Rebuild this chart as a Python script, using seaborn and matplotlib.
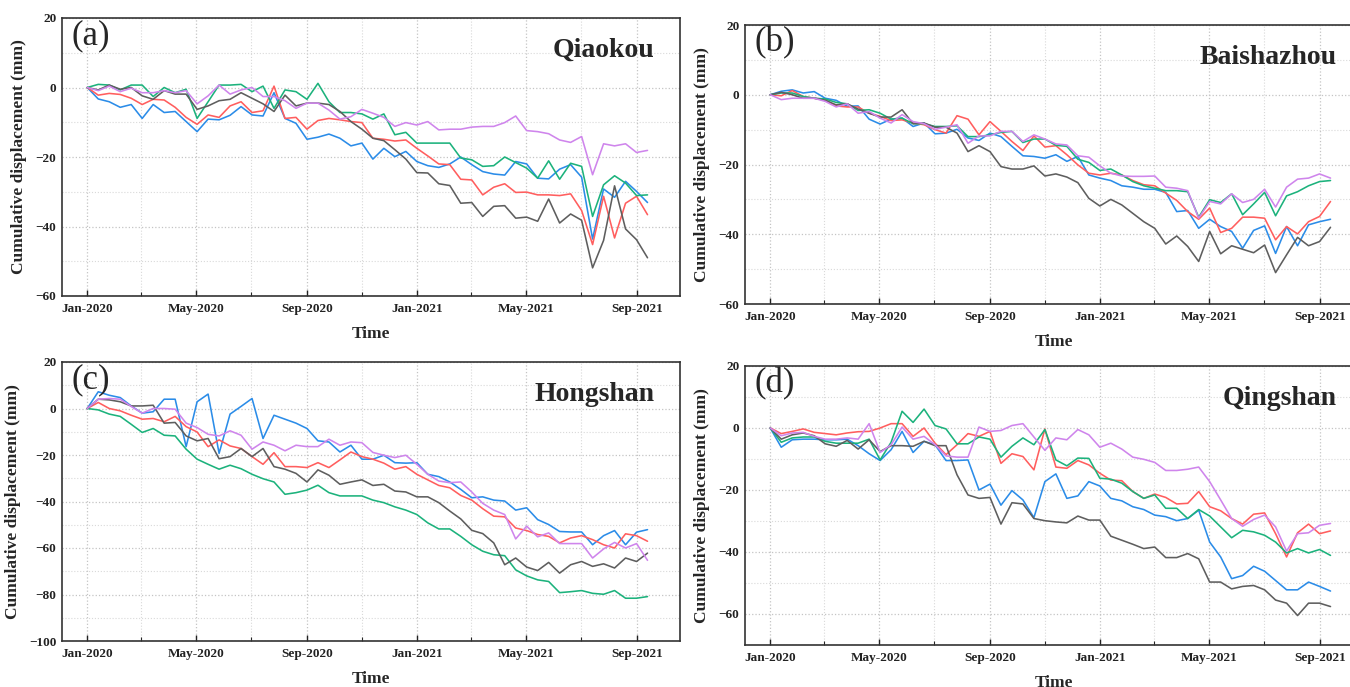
import numpy as np
import pandas as pd
import matplotlib
matplotlib.use("Agg")
import matplotlib.pyplot as plt
import matplotlib.dates as mdates
from matplotlib.ticker import MultipleLocator, FuncFormatter
import seaborn as sns

# ---------------- data ----------------
dates = pd.date_range("2020-01-01", "2021-09-13", periods=52)
line_names = ["blue", "red", "green", "gray", "violet"]
panel_letters = ["(a)", "(b)", "(c)", "(d)"]
panel_titles = ["Qiaokou", "Baishazhou", "Hongshan", "Qingshan"]
y_limits = [(-60, 20), (-60, 20), (-100, 20), (-70, 20)]

a_blue = [0, -3.3, -4.1, -5.7, -4.9, -8.9, -4.9, -7.2, -6.9, -9.8, -12.7, -9.1, -9.3, -8.0, -5.5, -7.9, -8.2, -1.5, -8.9, -10.3, -14.9, -14.3, -13.4, -14.6, -16.8, -16.0,
          -20.6, -17.5, -19.9, -18.4, -21.3, -22.5, -23.0, -22.0, -20.0, -22.2, -24.2, -24.9, -25.2, -21.3, -22.0, -26.1, -26.3, -23.5, -22.2, -25.8, -43.6, -29.2, -31.6, -27.0, -29.9, -33.1]
a_red = [0, -2.2, -1.7, -2.0, -3.1, -4.9, -3.4, -3.6, -5.7, -8.6, -10.6, -7.9, -8.6, -5.3, -4.1, -7.2, -6.7, 0.4, -8.9, -8.6, -12.0, -9.5, -8.9, -9.3, -9.8, -10.1,
         -14.6, -14.9, -15.4, -15.1, -17.5, -19.7, -22.0, -22.2, -26.4, -26.6, -30.9, -28.7, -27.7, -30.2, -30.1, -30.9, -30.9, -31.1, -30.6, -35.4, -45.2, -31.3, -43.3, -33.3, -31.3, -36.6]
a_green = [0, 0.9, 0.7, -0.7, 0.7, 0.7, -2.6, 0, -1.5, -0.5, -8.9, -4.1, 0.7, 0.7, 0.9, -1.2, 0.4, -6.0, -0.7, -1.2, -3.4, 1.2, -4.1, -7.2, -7.2, -7.6,
           -9.1, -7.6, -13.6, -12.9, -16.0, -16.0, -16.0, -16.0, -20.3, -20.8, -22.7, -22.5, -20.0, -21.6, -23.2, -26.1, -21.1, -26.4, -21.8, -22.7, -37.1, -28.0, -25.4, -27.5, -31.1, -30.9]
a_gray = [0, -0.7, 0.7, -0.5, 0, -2.4, -3.4, -0.9, -1.9, -1.9, -6.3, -5.3, -3.8, -3.4, -1.5, -3.1, -4.7, -6.9, -2.2, -5.3, -4.5, -4.5, -4.9, -6.9, -9.8, -12.0,
          -14.6, -15.3, -17.9, -20.6, -24.5, -24.6, -27.7, -28.2, -33.3, -33.1, -37.1, -34.2, -34.0, -37.6, -37.3, -38.5, -32.1, -39.0, -36.4, -38.2, -51.9, -44.0, -28.3, -40.7, -43.8, -49.0]
a_violet = [0, -0.9, 0.4, -1.2, -0.2, -1.5, -1.5, -0.9, -1.5, -0.9, -4.7, -2.4, 0.7, -1.9, -0.7, 0, -2.6, -2.6, -3.8, -6.0, -4.5, -4.5, -6.5, -9.1, -8.4, -6.3,
            -7.4, -8.6, -11.2, -10.1, -10.8, -9.8, -12.2, -12.0, -12.0, -11.4, -11.2, -11.2, -10.1, -8.2, -12.4, -12.7, -13.3, -15.1, -15.8, -14.1, -25.1, -16.2, -16.8, -16.2, -18.7, -18.1]

b_blue = [0, 1.0, 1.4, 0.5, 0.9, -1.0, -1.6, -3.3, -3.2, -7.0, -8.4, -7.0, -6.7, -9.1, -8.1, -11.2, -11.0, -9.9, -12.4, -13.1, -11.0, -12.0, -14.8, -17.5, -17.7, -18.2,
          -17.2, -19.1, -17.7, -23.0, -23.9, -24.6, -26.1, -26.5, -27.1, -27.1, -28.0, -33.5, -33.2, -38.3, -35.7, -37.8, -39.2, -44.0, -38.9, -37.6, -45.5, -37.8, -43.3, -37.3, -36.4, -35.7]
b_red = [0, -0.3, 1.2, -0.5, -1.0, -1.4, -3.2, -3.5, -3.5, -5.3, -6.2, -7.4, -7.2, -8.1, -8.6, -10.0, -11.0, -6.0, -7.0, -11.5, -7.7, -10.5, -13.4, -16.0, -11.8, -15.0,
         -14.6, -17.2, -20.1, -22.5, -23.0, -22.5, -23.0, -24.6, -25.8, -26.1, -28.2, -30.3, -33.5, -35.7, -32.5, -39.5, -38.3, -35.1, -35.1, -35.4, -41.6, -37.8, -39.9, -36.4, -34.9, -30.6]
b_green = [0, 0.5, 0.5, -0.5, -1.0, -1.2, -2.2, -2.6, -4.5, -4.3, -5.3, -7.0, -6.7, -8.3, -8.3, -9.1, -9.1, -8.9, -12.0, -12.0, -11.5, -10.8, -10.5, -13.7, -12.7, -12.7,
           -14.5, -14.8, -18.5, -19.4, -21.7, -21.3, -23.0, -24.9, -26.1, -26.8, -27.5, -27.5, -27.8, -35.1, -30.1, -30.9, -28.4, -34.4, -31.3, -28.0, -34.7, -29.0, -27.8, -26.1, -24.9, -24.6]
b_gray = [0, 0.7, 0, -1.0, -1.0, -1.6, -2.9, -2.6, -4.1, -5.3, -6.4, -6.4, -4.3, -8.3, -8.1, -9.3, -9.3, -11.0, -16.3, -14.6, -16.3, -20.6, -21.3, -21.3, -20.4, -23.3,
          -22.7, -23.6, -25.2, -29.7, -31.9, -30.0, -31.6, -34.0, -36.4, -38.3, -42.8, -40.5, -43.5, -47.8, -39.2, -45.6, -43.3, -44.3, -45.3, -43.1, -51.0, -45.9, -40.9, -43.3, -42.1, -38.0]
b_violet = [0, -1.4, -1.0, -1.0, -1.0, -1.9, -3.5, -2.6, -5.3, -4.8, -6.7, -8.1, -5.7, -7.7, -8.3, -9.9, -9.3, -8.6, -13.9, -11.8, -11.8, -10.5, -10.5, -13.4, -11.5, -12.7,
            -14.1, -14.4, -17.5, -17.9, -20.4, -22.5, -23.3, -23.4, -23.4, -23.3, -26.5, -26.8, -27.5, -35.4, -30.6, -31.3, -28.4, -30.9, -30.0, -27.1, -32.2, -26.5, -24.2, -23.9, -22.7, -23.9]

c_blue = [0, 7.2, 5.7, 4.7, 1.1, -2.0, -1.4, 4.0, 4.0, -16.4, 2.9, 6.2, -19.3, -2.4, 0.9, 4.3, -12.9, -2.9, -4.6, -6.3, -8.6, -13.9, -14.4, -18.7, -15.8, -21.8,
          -21.8, -20.1, -23.3, -23.5, -23.3, -28.3, -29.3, -31.6, -34.8, -38.4, -38.0, -39.4, -39.8, -43.7, -42.7, -47.8, -49.9, -52.9, -53.1, -53.1, -58.6, -54.7, -52.5, -58.6, -53.2, -52.1]
c_red = [0, 2.6, 0, -1.0, -2.9, -4.6, -4.3, -5.7, -3.4, -7.8, -10.1, -16.4, -13.5, -16.1, -17.2, -20.7, -24.0, -19.0, -25.0, -25.0, -25.4, -23.3, -25.4, -22.1, -18.7, -20.7,
         -21.8, -23.5, -26.1, -25.0, -28.3, -30.7, -33.1, -34.1, -37.4, -39.4, -43.1, -46.3, -46.6, -51.4, -52.5, -54.2, -55.0, -57.8, -55.7, -54.7, -56.4, -58.6, -60.0, -53.9, -54.7, -57.1]
c_green = [0, -0.6, -2.4, -3.4, -6.8, -10.3, -8.6, -11.5, -11.8, -17.5, -21.8, -24.0, -26.1, -24.4, -25.9, -28.3, -30.2, -31.6, -36.9, -36.2, -35.1, -33.0, -36.2, -37.6, -37.6, -37.6,
           -39.4, -40.5, -42.3, -43.7, -45.6, -49.2, -51.8, -51.8, -55.0, -58.6, -61.4, -62.9, -63.3, -69.4, -72.0, -73.7, -74.4, -79.2, -78.8, -78.3, -79.5, -79.9, -78.3, -81.6, -81.6, -80.9]
c_gray = [0, 4.0, 3.7, 2.9, 1.1, 1.1, 1.4, -6.3, -6.0, -11.8, -13.9, -12.9, -21.6, -20.7, -17.2, -20.7, -17.2, -25.0, -26.1, -27.9, -31.6, -26.4, -28.7, -32.6, -31.6, -30.7,
          -33.1, -32.6, -35.5, -35.9, -38.0, -38.0, -40.5, -44.1, -47.5, -52.4, -53.8, -57.8, -67.2, -64.3, -68.2, -69.7, -66.2, -70.8, -67.2, -65.8, -67.9, -66.8, -68.6, -64.3, -65.8, -62.2]
c_violet = [0, 4.0, 4.3, 4.0, 0.9, -2.0, 0, 0, -0.3, -6.3, -8.2, -11.1, -11.8, -9.6, -11.5, -17.5, -14.4, -15.8, -18.2, -15.8, -16.4, -16.4, -13.2, -15.8, -14.4, -14.7,
            -18.9, -20.1, -21.1, -20.1, -24.0, -28.3, -31.2, -31.9, -31.6, -35.9, -40.8, -43.7, -45.6, -56.1, -50.6, -55.2, -53.5, -58.1, -58.1, -58.1, -64.3, -60.4, -57.6, -60.0, -58.1, -65.3]

d_blue = [0, -6.2, -3.8, -3.6, -3.6, -3.8, -3.8, -3.6, -5.7, -8.3, -10.5, -7.0, -1.1, -7.9, -4.3, -5.4, -10.5, -10.5, -10.3, -20.0, -18.1, -24.9, -20.2, -23.2, -28.9, -17.3,
          -14.8, -22.7, -21.9, -17.3, -18.7, -22.7, -23.5, -25.4, -26.3, -28.1, -28.6, -29.9, -29.2, -26.5, -36.8, -41.6, -48.6, -47.6, -44.6, -46.2, -49.2, -52.2, -52.2, -49.7, -51.1, -52.6]
d_red = [0, -1.8, -1.1, -0.3, -1.4, -1.8, -2.2, -1.6, -1.2, -1.1, 0, 1.4, 1.4, -2.7, 0, -4.9, -8.6, -5.4, -1.8, -2.7, -1.1, -11.4, -8.3, -9.2, -13.5, -0.3,
         -12.6, -13.0, -10.5, -11.9, -14.6, -16.8, -17.0, -20.5, -22.7, -21.3, -22.4, -24.5, -24.3, -20.5, -25.4, -26.7, -29.2, -31.0, -27.8, -27.4, -34.1, -41.6, -33.8, -31.0, -34.1, -33.2]
d_green = [0, -4.6, -3.2, -2.9, -2.9, -4.3, -4.9, -4.9, -4.9, -3.6, -10.3, -4.6, 5.4, 1.8, 6.1, 0.8, -0.3, -5.1, -5.1, -2.9, -3.6, -9.4, -5.9, -3.2, -5.4, -0.5,
           -10.3, -12.2, -9.7, -9.8, -16.2, -16.5, -17.8, -20.5, -22.7, -21.6, -25.9, -25.9, -29.2, -26.3, -28.4, -31.9, -35.4, -33.0, -33.5, -34.6, -36.8, -40.3, -38.9, -40.3, -39.2, -41.1]
d_gray = [0, -3.6, -2.2, -1.6, -2.5, -5.1, -5.9, -4.0, -6.8, -3.8, -7.6, -5.7, -5.7, -5.9, -4.3, -5.7, -5.7, -15.1, -21.6, -22.7, -22.4, -31.0, -24.1, -24.5, -29.2, -29.9,
          -30.3, -30.6, -28.4, -29.7, -29.7, -34.9, -36.2, -37.5, -38.9, -38.4, -41.8, -41.8, -40.5, -42.2, -49.7, -49.7, -51.9, -51.1, -50.8, -52.2, -55.5, -56.5, -60.5, -56.5, -56.5, -57.6]
d_violet = [0, -2.5, -1.6, -1.4, -2.7, -3.6, -3.6, -3.2, -3.6, 1.4, -7.9, -5.4, 0.3, -3.6, -2.7, -5.4, -9.0, -9.4, -9.4, 0.3, -1.1, -0.8, 0.8, 1.4, -2.9, -7.2,
            -3.2, -3.8, -0.5, -2.2, -6.2, -4.9, -6.8, -9.4, -10.1, -11.1, -13.7, -13.7, -13.3, -12.6, -17.3, -23.2, -29.2, -31.7, -29.5, -28.1, -31.9, -39.7, -34.1, -33.8, -31.4, -30.8]

panels_data = [
    [a_blue, a_red, a_green, a_gray, a_violet],
    [b_blue, b_red, b_green, b_gray, b_violet],
    [c_blue, c_red, c_green, c_gray, c_violet],
    [d_blue, d_red, d_green, d_gray, d_violet],
]

palette = {"blue": "#2B8CE8", "red": "#FF5E5E", "green": "#1CB27C",
           "gray": "#5E5E5E", "violet": "#CF85EC"}

# ---------------- style ----------------
sns.set_theme(style="white")
plt.rcParams['font.family'] = ['Liberation Serif', 'DejaVu Serif']
plt.rcParams['axes.unicode_minus'] = True

fig = plt.figure(figsize=(13.5, 6.87), dpi=100)
W, H = 1350.0, 687.0
# axes boxes in pixels: left, top, right, bottom
boxes = [(62, 18, 680, 296), (745, 25, 1363, 304), (62, 362, 680, 641), (745, 366, 1363, 645)]

x_left = pd.Timestamp("2019-12-04")
x_right = pd.Timestamp("2021-10-19")

for k in range(4):
    l, t, r, b = boxes[k]
    ax = fig.add_axes([l / W, 1 - b / H, (r - l) / W, (b - t) / H])
    df = pd.DataFrame({
        "date": np.tile(dates, len(line_names)),
        "disp": np.concatenate([np.asarray(v, dtype=float) for v in panels_data[k]]),
        "line": np.repeat(line_names, len(dates)),
    })
    ax.grid(True, which="major", linestyle=":", color="#c4c4c4", linewidth=0.9)
    ax.grid(True, which="minor", linestyle=":", color="#d9d9d9", linewidth=0.8)
    ax.set_axisbelow(True)
    sns.lineplot(data=df, x="date", y="disp", hue="line", hue_order=line_names,
                 palette=palette, legend=False, linewidth=1.15, estimator=None,
                 sort=False, ax=ax)
    ax.set_xlim(x_left, x_right)
    ax.set_ylim(*y_limits[k])
    ax.xaxis.set_major_locator(mdates.MonthLocator(bymonth=[1, 5, 9]))
    ax.xaxis.set_minor_locator(mdates.MonthLocator(bymonth=[3, 7, 11]))
    ax.xaxis.set_major_formatter(mdates.DateFormatter("%b-%Y"))
    ax.yaxis.set_major_locator(MultipleLocator(20))
    ax.yaxis.set_minor_locator(MultipleLocator(10))
    ax.yaxis.set_major_formatter(FuncFormatter(lambda v, p: f"{int(v)}".replace("-", "\u2212")))
    ax.tick_params(axis="x", which="major", direction="in", length=4, width=1, pad=5,
                   labelsize=9.5, colors="#222222", bottom=True)
    ax.tick_params(axis="x", which="minor", direction="in", length=3, width=0.8, bottom=True)
    ax.tick_params(axis="y", which="both", direction="in", length=0, pad=4,
                   labelsize=9.5, colors="#222222", left=True)
    for lab in ax.get_xticklabels() + ax.get_yticklabels():
        lab.set_fontweight("bold")
    for s in ax.spines.values():
        s.set_color("#333333")
        s.set_linewidth(1.2)
    ax.set_xlabel("Time", fontsize=12.5, fontweight="bold", labelpad=8)
    ax.set_ylabel("Cumulative displacement (mm)", fontsize=12.5, fontweight="bold", labelpad=6)
    ax.text(0.016, 0.935, panel_letters[k], transform=ax.transAxes, fontsize=25,
            ha="left", va="center")
    ax.text(0.958, 0.885, panel_titles[k], transform=ax.transAxes, fontsize=20,
            fontweight="bold", ha="right", va="center")

fig.savefig("out.png", dpi=100)
